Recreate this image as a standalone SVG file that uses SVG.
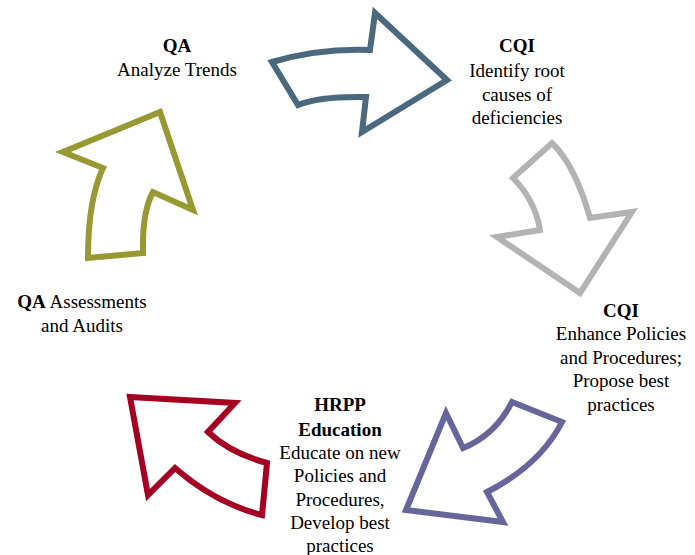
<svg xmlns="http://www.w3.org/2000/svg" width="695" height="555" viewBox="0 0 695 555">
<style>
.a{fill:#ffffff;stroke-width:6;stroke-linejoin:miter}
.t text{font-size:19px;fill:#000;text-anchor:middle}
.b{font-weight:bold}
</style>
<rect width="695" height="555" fill="#ffffff"/>
<g id="connectors">
<path id="arrow1" class="a" stroke="#4b697e" d="M272,62 Q320,48 370,50 L375,13 L447,80 L362,132 L366,97 Q320,96 298,105 Z"/>
<path id="arrow2" class="a" stroke="#b3b3b3" d="M552,143 Q575,165 590,218 L632,212 L580,293 L497,237 L540,230 Q535,200 513,178 Z"/>
<path id="arrow3" class="a" stroke="#67669b" d="M512,402 L562,422 Q540,465 487,492 L503,522 L406,510 L446,413 L463,448 Q495,435 512,402 Z"/>
<path id="arrow4" class="a" stroke="#a50021" d="M130,397 L235,403 L208,432 Q230,453 267,463 L262,515 Q215,503 175,468 L148,495 Z"/>
<path id="arrow5" class="a" stroke="#999933" d="M160,112 L63,152 L103,168 Q88,200 88,258 L143,253 Q142,212 153,192 L193,210 Z"/>
</g>
<g class="t" font-family="Liberation Serif, DejaVu Serif, serif">
<g id="node-qa-trends">
<text x="177" y="52" class="b">QA</text>
<text x="177" y="76">Analyze Trends</text>
</g>
<g id="node-cqi-root">
<text x="517" y="52" class="b">CQI</text>
<text x="517" y="77">Identify root</text>
<text x="517" y="101">causes of</text>
<text x="517" y="124">deficiencies</text>
</g>
<g id="node-cqi-enhance">
<text x="621" y="317" class="b">CQI</text>
<text x="621" y="340">Enhance Policies</text>
<text x="621" y="364">and Procedures;</text>
<text x="621" y="387">Propose best</text>
<text x="621" y="411">practices</text>
</g>
<g id="node-hrpp">
<text x="340" y="411" class="b">HRPP</text>
<text x="340" y="436" class="b">Education</text>
<text x="340" y="459">Educate on new</text>
<text x="340" y="482">Policies and</text>
<text x="340" y="506">Procedures,</text>
<text x="340" y="529">Develop best</text>
<text x="340" y="552">practices</text>
</g>
<g id="node-qa-audits">
<text x="82" y="308"><tspan class="b">QA</tspan> Assessments</text>
<text x="82" y="332">and Audits</text>
</g>
</g>
</svg>
